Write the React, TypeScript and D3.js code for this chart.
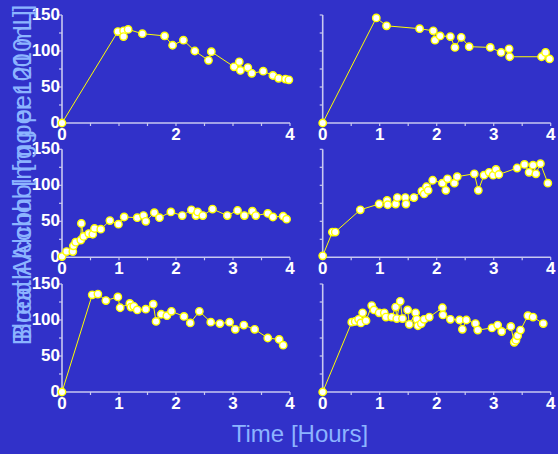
import React from "react";
import * as d3 from "d3";

const W = 558;
const H = 454;

// Time (hours) and alcohol values per subject panel
const p1T = [0, 0.98, 1.08, 1.08, 1.16, 1.41, 1.8, 1.94, 2.13, 2.33, 2.57, 2.62, 3.02, 3.11, 3.13, 3.26, 3.33, 3.53, 3.7, 3.8, 3.92, 3.98];
const p1V = [0, 127, 128, 120, 130, 124, 121, 108, 115, 100, 87, 99, 78, 85, 73, 77, 69, 72, 66, 62, 61, 60];

const p2T = [0, 0.94, 1.12, 1.7, 1.94, 1.97, 2.06, 2.24, 2.32, 2.43, 2.57, 2.94, 3.13, 3.27, 3.28, 3.84, 3.91, 3.98];
const p2V = [0, 146, 135, 131, 128, 115, 121, 120, 105, 119, 106, 105, 98, 103, 92, 92, 98, 89];

const p3T = [0, 0.08, 0.19, 0.2, 0.24, 0.33, 0.34, 0.38, 0.47, 0.54, 0.57, 0.68, 0.84, 0.99, 1.09, 1.32, 1.43, 1.47, 1.62, 1.71, 1.91, 2.11, 2.27, 2.35, 2.38, 2.47, 2.64, 2.9, 3.08, 3.2, 3.34, 3.4, 3.61, 3.7, 3.88, 3.94];
const p3V = [1, 8, 8, 16, 21, 24, 47, 29, 33, 32, 40, 39, 51, 46, 56, 55, 58, 50, 62, 55, 63, 58, 66, 58, 63, 58, 67, 58, 65, 58, 64, 58, 61, 56, 57, 53];

const p4T = [0, 0.17, 0.22, 0.66, 0.99, 1.13, 1.14, 1.28, 1.31, 1.45, 1.46, 1.6, 1.74, 1.78, 1.82, 1.85, 1.93, 2.1, 2.16, 2.19, 2.31, 2.36, 2.66, 2.73, 2.83, 2.92, 2.99, 3.04, 3.09, 3.41, 3.54, 3.62, 3.69, 3.74, 3.82, 3.95];
const p4V = [2, 35, 35, 66, 74, 79, 73, 74, 83, 83, 74, 83, 92, 88, 98, 93, 107, 103, 93, 109, 103, 112, 116, 93, 114, 118, 114, 122, 115, 124, 129, 118, 128, 116, 130, 103];

const p5T = [0, 0.53, 0.63, 0.77, 0.98, 1.02, 1.19, 1.21, 1.26, 1.32, 1.47, 1.6, 1.65, 1.74, 1.84, 1.92, 2.14, 2.25, 2.41, 2.61, 2.77, 2.94, 3.04, 3.19, 3.38, 3.61, 3.81, 3.88];
const p5V = [0, 135, 136, 127, 132, 117, 123, 118, 119, 114, 115, 122, 98, 108, 106, 112, 105, 96, 112, 97, 95, 97, 87, 93, 87, 75, 73, 65];

const p6T = [0, 0.51, 0.57, 0.63, 0.67, 0.7, 0.76, 0.86, 0.9, 0.99, 1.08, 1.11, 1.21, 1.28, 1.3, 1.36, 1.4, 1.49, 1.52, 1.63, 1.65, 1.67, 1.73, 1.78, 1.87, 2.1, 2.11, 2.24, 2.4, 2.45, 2.52, 2.68, 2.72, 2.97, 3.07, 3.14, 3.3, 3.36, 3.39, 3.42, 3.47, 3.6, 3.69, 3.87];
const p6V = [0, 97, 98, 101, 96, 110, 99, 120, 114, 110, 110, 104, 104, 118, 102, 126, 102, 114, 94, 110, 101, 92, 95, 101, 104, 117, 107, 101, 100, 87, 100, 95, 86, 89, 93, 84, 91, 69, 72, 78, 86, 106, 104, 95];

const yTicks = [0, 50, 100, 150];
const xTicksSparse = [0, 2, 4];
const xTicksFull = [0, 1, 2, 3, 4];

const yLabelA = "Breath Alcohol [mg per 210 L]";
const yLabelB = "Blood Alcohol [mg per 100 mL]";
const xLabel = "Time [Hours]";

const panels = [
  { t: p1T, v: p1V, row: 0, col: 0, xt: xTicksSparse },
  { t: p2T, v: p2V, row: 0, col: 1, xt: xTicksFull },
  { t: p3T, v: p3V, row: 1, col: 0, xt: xTicksFull },
  { t: p4T, v: p4V, row: 1, col: 1, xt: xTicksFull },
  { t: p5T, v: p5V, row: 2, col: 0, xt: xTicksFull },
  { t: p6T, v: p6V, row: 2, col: 1, xt: xTicksFull },
];

const colX = [62, 322.7];
const pw = 228;
const rowY = [15, 149.3, 284];
const ph = 108;

const BG = "#3131c9";
const AXIS = "#c8c8f0";
const LABEL = "#8cb4ff";
const YEL = "#ffff00";

function Panel({ p }: { p: (typeof panels)[number] }) {
  const x0 = colX[p.col];
  const y0 = rowY[p.row];
  const x = d3.scaleLinear().domain([0, 4]).range([x0, x0 + pw]);
  const y = d3.scaleLinear().domain([0, 150]).range([y0 + ph, y0]);
  const pts = p.t.map((t, i) => [t, p.v[i]] as [number, number]);
  const line = d3
    .line<[number, number]>()
    .x((d) => x(d[0]))
    .y((d) => y(d[1]));
  const minorY = d3.range(0, 151, 25);
  const minorX = d3.range(0, 4.01, 0.5);
  return (
    <g>
      <line x1={x(0)} x2={x(4)} y1={y(0)} y2={y(0)} stroke={AXIS} strokeWidth={1.6} />
      <line x1={x(0)} x2={x(0)} y1={y(0)} y2={y(150)} stroke={AXIS} strokeWidth={1.6} />
      {minorY.map((v) => (
        <line key={"y" + v} x1={x(0) - 3} x2={x(0)} y1={y(v)} y2={y(v)} stroke={AXIS} strokeWidth={1.2} />
      ))}
      {minorX.map((t) => (
        <line key={"x" + t} x1={x(t)} x2={x(t)} y1={y(0)} y2={y(0) + 3} stroke={AXIS} strokeWidth={1.2} />
      ))}
      {p.col === 0 &&
        yTicks.map((v) => (
          <text
            key={"yl" + v}
            x={x(0) - 2}
            y={y(v) + 5}
            textAnchor="end"
            fill="#ffffff"
            fontFamily="Liberation Sans, Arial, sans-serif"
            fontWeight="bold"
            fontSize={17}
          >
            {v}
          </text>
        ))}
      {p.xt.map((t) => (
        <text
          key={"xl" + t}
          x={x(t)}
          y={y(0) + 17}
          textAnchor="middle"
          fill="#ffffff"
          fontFamily="Liberation Sans, Arial, sans-serif"
          fontWeight="bold"
          fontSize={17}
        >
          {t}
        </text>
      ))}
      <path d={line(pts) || ""} fill="none" stroke={YEL} strokeWidth={1} />
      {pts.map((d, i) => (
        <circle key={i} cx={x(d[0])} cy={y(d[1])} r={3.7} fill="#ffffff" stroke={YEL} strokeWidth={1.4} />
      ))}
    </g>
  );
}

export default function App() {
  return (
    <svg
      width={W}
      height={H}
      style={{ position: "absolute", left: 0, top: 0, display: "block" }}
    >
      <rect x={0} y={0} width={W} height={H} fill={BG} />
      {panels.map((p, i) => (
        <Panel key={i} p={p} />
      ))}
      {[yLabelA, yLabelB].map((s, i) => (
        <text
          key={i}
          transform={`translate(31,175) rotate(-90)`}
          textAnchor="middle"
          fill={LABEL}
          fontFamily="Liberation Sans, Arial, sans-serif"
          fontSize={25}
        >
          {s}
        </text>
      ))}
      <text
        x={300}
        y={442}
        textAnchor="middle"
        fill={LABEL}
        fontFamily="Liberation Sans, Arial, sans-serif"
        fontSize={24}
      >
        {xLabel}
      </text>
    </svg>
  );
}
